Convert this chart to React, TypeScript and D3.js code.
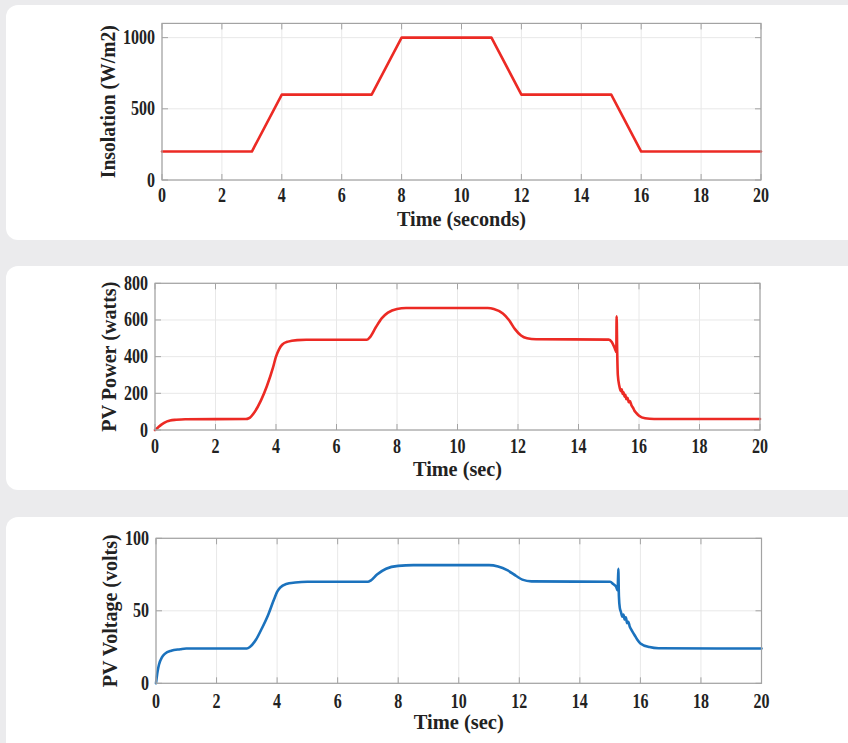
import React from "react";
import * as d3 from "d3";

const xTicks = [0, 2, 4, 6, 8, 10, 12, 14, 16, 18, 20];

const insTime = [0, 3, 4, 7, 8, 11, 12, 15, 16, 20];
const insValue = [200, 200, 600, 600, 1000, 1000, 600, 600, 200, 200];
const insTicks = [0, 500, 1000];

const powTime = [0, 0.1, 0.2, 0.3, 0.4, 0.5, 0.7, 1, 3, 3.1, 3.3, 3.5, 3.7, 3.9, 4.0, 4.1, 4.2, 4.4, 4.7, 5, 7, 7.1, 7.3, 7.5, 7.7, 8, 8.3, 11, 11.2, 11.5, 11.7, 11.9, 12.1, 12.3, 12.6, 15, 15.1, 15.2, 15.25, 15.26, 15.28, 15.3, 15.35, 15.4, 15.43, 15.46, 15.49, 15.52, 15.55, 15.58, 15.62, 15.66, 15.7, 15.75, 15.8, 15.85, 15.9, 16, 16.2, 16.5, 20];
const powValue = [0, 14, 28, 39, 47, 52, 56, 59, 60, 64, 100, 160, 240, 340, 400, 440, 465, 482, 490, 492, 492, 505, 560, 610, 640, 660, 665, 665, 660, 635, 600, 550, 515, 500, 495, 493, 480, 445, 425, 620, 420, 300, 240, 212, 222, 196, 206, 182, 192, 168, 176, 152, 158, 135, 122, 105, 95, 78, 64, 60, 60];
const powTicks = [0, 200, 400, 600, 800];

const volTime = [0, 0.05, 0.1, 0.2, 0.3, 0.5, 0.8, 1, 3, 3.1, 3.3, 3.5, 3.7, 3.9, 4.0, 4.1, 4.3, 4.6, 5, 7, 7.1, 7.3, 7.6, 8, 8.5, 11, 11.3, 11.6, 11.9, 12.1, 12.4, 15, 15.1, 15.2, 15.25, 15.27, 15.29, 15.32, 15.36, 15.4, 15.44, 15.48, 15.52, 15.56, 15.6, 15.65, 15.7, 15.8, 15.9, 16, 16.3, 16.6, 20];
const volValue = [0, 8, 13, 18, 20.5, 22.5, 23.5, 24, 24, 25, 30, 38, 47, 58, 63, 66, 68.5, 69.5, 70, 70, 71, 75, 79, 81, 81.5, 81.5, 80.5, 78, 74, 71.5, 70.3, 70, 68.5, 66.5, 64, 79, 60, 52, 49, 46, 47.5, 44, 45.5, 41.5, 42.5, 39, 37, 33.5, 30, 27.5, 25, 24.2, 24];
const volTicks = [0, 50, 100];

const RED = "#ec2a24";
const BLUE = "#1b72bd";
const TEXT = "#222222";
const FONT = "'Liberation Serif', 'Times New Roman', serif";

type PanelProps = {
  x0: number; x1: number; yBottom: number; yTop: number;
  yMax: number; yTicks: number[];
  times: number[]; values: number[]; color: string; smooth: boolean;
  yLabel: string; yLabelX: number; yLabelLen: number;
  xLabel: string; xLabelY: number; xLabelLen: number;
  tickLabelY: number;
};

function Panel(p: PanelProps) {
  const x = d3.scaleLinear().domain([0, 20]).range([p.x0, p.x1]);
  const y = d3.scaleLinear().domain([0, p.yMax]).range([p.yBottom, p.yTop]);
  const pts: [number, number][] = p.times.map((t, i) => [t, p.values[i]]);
  const line = d3.line<[number, number]>()
    .x((d) => x(d[0]))
    .y((d) => y(d[1]))
    .curve(p.smooth ? d3.curveMonotoneX : d3.curveLinear);
  const tickLen = 6;
  const axisColor = "#a3a3a3";
  const gridColor = "#e8e8e8";
  const yc = (p.yBottom + p.yTop) / 2;
  return (
    <g>
      {xTicks.map((t) => (
        <line key={"gx" + t} x1={x(t)} x2={x(t)} y1={p.yBottom} y2={p.yTop} stroke={gridColor} strokeWidth={1} />
      ))}
      {p.yTicks.map((t) => (
        <line key={"gy" + t} x1={p.x0} x2={p.x1} y1={y(t)} y2={y(t)} stroke={gridColor} strokeWidth={1} />
      ))}
      <path d={line(pts) || ""} fill="none" stroke={p.color} strokeWidth={2.6} strokeLinejoin="round" strokeLinecap="round" />
      <rect x={p.x0} y={p.yTop} width={p.x1 - p.x0} height={p.yBottom - p.yTop} fill="none" stroke={axisColor} strokeWidth={1.2} />
      {xTicks.map((t) => (
        <g key={"tx" + t}>
          <line x1={x(t)} x2={x(t)} y1={p.yBottom} y2={p.yBottom - tickLen} stroke={axisColor} />
          <line x1={x(t)} x2={x(t)} y1={p.yTop} y2={p.yTop + tickLen} stroke={axisColor} />
          <text transform={`translate(${x(t)},${p.tickLabelY}) scale(0.8,1)`} textAnchor="middle" fontFamily={FONT} fontWeight="bold" fontSize={20} fill={TEXT}>{t}</text>
        </g>
      ))}
      {p.yTicks.map((t) => (
        <g key={"ty" + t}>
          <line x1={p.x0} x2={p.x0 + tickLen} y1={y(t)} y2={y(t)} stroke={axisColor} />
          <line x1={p.x1} x2={p.x1 - tickLen} y1={y(t)} y2={y(t)} stroke={axisColor} />
          <text transform={`translate(${p.x0 - 7},${y(t) + 6.5}) scale(0.8,1)`} textAnchor="end" fontFamily={FONT} fontWeight="bold" fontSize={20} fill={TEXT}>{t}</text>
        </g>
      ))}
      <text x={(p.x0 + p.x1) / 2} y={p.xLabelY} textAnchor="middle" fontFamily={FONT} fontWeight="bold" fontSize={20} fill={TEXT} textLength={p.xLabelLen} lengthAdjust="spacingAndGlyphs">{p.xLabel}</text>
      <text transform={`translate(${p.yLabelX},${yc}) rotate(-90)`} textAnchor="middle" fontFamily={FONT} fontWeight="bold" fontSize={21} fill={TEXT} textLength={p.yLabelLen} lengthAdjust="spacingAndGlyphs">{p.yLabel}</text>
    </g>
  );
}

export default function App() {
  return (
    <div style={{ position: "fixed", left: 0, top: 0, width: 848, height: 743 }}>
      <svg width={848} height={743} style={{ display: "block" }}>
        <rect x={0} y={0} width={848} height={743} fill="#ebebed" />
        <rect x={6} y={5} width={900} height={235} rx={12} fill="#ffffff" />
        <rect x={6} y={266} width={900} height={224} rx={12} fill="#ffffff" />
        <rect x={6} y={517} width={900} height={260} rx={12} fill="#ffffff" />
        <Panel x0={162} x1={761} yBottom={180} yTop={23.4} yMax={1100} yTicks={insTicks}
          times={insTime} values={insValue} color={RED} smooth={false}
          yLabel="Insolation (W/m2)" yLabelX={115} yLabelLen={153}
          xLabel="Time (seconds)" xLabelY={226} xLabelLen={129} tickLabelY={202} />
        <Panel x0={155} x1={760} yBottom={430} yTop={283.3} yMax={800} yTicks={powTicks}
          times={powTime} values={powValue} color={RED} smooth={true}
          yLabel="PV Power (watts)" yLabelX={116} yLabelLen={150}
          xLabel="Time (sec)" xLabelY={476} xLabelLen={89} tickLabelY={452.5} />
        <Panel x0={156} x1={761.5} yBottom={683.3} yTop={538.3} yMax={100} yTicks={volTicks}
          times={volTime} values={volValue} color={BLUE} smooth={true}
          yLabel="PV Voltage (volts)" yLabelX={117} yLabelLen={153}
          xLabel="Time (sec)" xLabelY={729} xLabelLen={90} tickLabelY={707.5} />
      </svg>
    </div>
  );
}
